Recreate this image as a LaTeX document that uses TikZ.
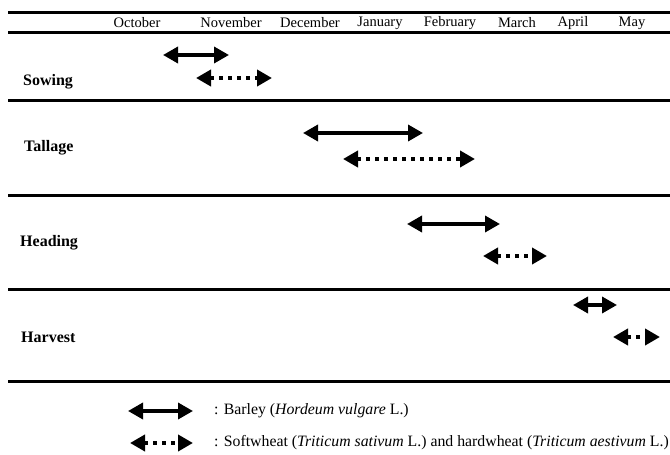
\documentclass[tikz,border=0pt]{standalone}
\usepackage{fontspec}
\setmainfont{Liberation Serif}
\usetikzlibrary{arrows.meta}
\tikzset{
  rule/.style={line width=3pt},
  month/.style={inner sep=0pt, font=\fontsize{14.5}{16}\selectfont},
  stage/.style={inner sep=0pt, anchor=west, font=\fontsize{16}{18}\selectfont\bfseries},
  legtext/.style={inner sep=0pt, anchor=west, font=\fontsize{15.8}{18}\selectfont},
  barley/.style={line width=3.5pt, {Triangle[length=15pt,width=16pt]}-{Triangle[length=15pt,width=16pt]}},
  wheat/.style={line width=4pt, dash pattern=on 4pt off 5pt, {Triangle[length=15pt,width=16pt]}-{Triangle[length=15pt,width=16pt]}}
}
\begin{document}
\begin{tikzpicture}[x=1pt,y=-1pt]
\useasboundingbox (0,0) rectangle (670,455);
% rules
\coordinate (r1a) at (8,12.5);  \coordinate (r1b) at (670,12.5);
\coordinate (r2a) at (8,32.5);  \coordinate (r2b) at (670,32.5);
\coordinate (r3a) at (8,100.5); \coordinate (r3b) at (670,100.5);
\coordinate (r4a) at (8,195.5); \coordinate (r4b) at (670,195.5);
\coordinate (r5a) at (8,289);   \coordinate (r5b) at (670,289);
\coordinate (r6a) at (8,381.5); \coordinate (r6b) at (670,381.5);
\foreach \r in {1,...,6} {\draw[rule] (r\r a) -- (r\r b);}
% months
\node[month] (oct) at (137,23) {October};
\node[month] (nov) at (231,23) {November};
\node[month] (dec) at (310,23) {December};
\node[month] (jan) at (380,23) {January};
\node[month] (feb) at (450,23) {February};
\node[month] (mar) at (517,23) {March};
\node[month] (apr) at (573,23) {April};
\node[month] (may) at (632,23) {May};
% stage labels
\node[stage] (sowing) at (23,82) {Sowing};
\node[stage] (tallage) at (24,148) {Tallage};
\node[stage] (heading) at (20,243) {Heading};
\node[stage] (harvest) at (21,337) {Harvest};
% arrow ends
\coordinate (s1a) at (163,55);  \coordinate (s1b) at (229,55);
\coordinate (s2a) at (196,78);  \coordinate (s2b) at (272,78);
\coordinate (t1a) at (303,133); \coordinate (t1b) at (423,133);
\coordinate (t2a) at (343,159); \coordinate (t2b) at (475,159);
\coordinate (h1a) at (407,224); \coordinate (h1b) at (500,224);
\coordinate (h2a) at (483,256); \coordinate (h2b) at (547,256);
\coordinate (v1a) at (573,305); \coordinate (v1b) at (617,305);
\coordinate (v2a) at (613,337); \coordinate (v2b) at (660,337);
\coordinate (l1a) at (128,411); \coordinate (l1b) at (193,411);
\coordinate (l2a) at (130,443); \coordinate (l2b) at (193,443);
\draw[barley] (s1a) -- (s1b);
\draw[wheat]  (s2a) -- (s2b);
\draw[barley] (t1a) -- (t1b);
\draw[wheat]  (t2a) -- (t2b);
\draw[barley] (h1a) -- (h1b);
\draw[wheat]  (h2a) -- (h2b);
\draw[barley] (v1a) -- (v1b);
\draw[wheat]  (v2a) -- (v2b);
\draw[barley] (l1a) -- (l1b);
\draw[wheat]  (l2a) -- (l2b);
% legend
\node[legtext] (leg1) at (214,411) {: Barley (\textit{Hordeum vulgare} L.)};
\node[legtext] (leg2) at (214,443) {: Softwheat (\textit{Triticum sativum} L.) and hardwheat (\textit{Triticum aestivum} L.)};
\end{tikzpicture}
\end{document}
